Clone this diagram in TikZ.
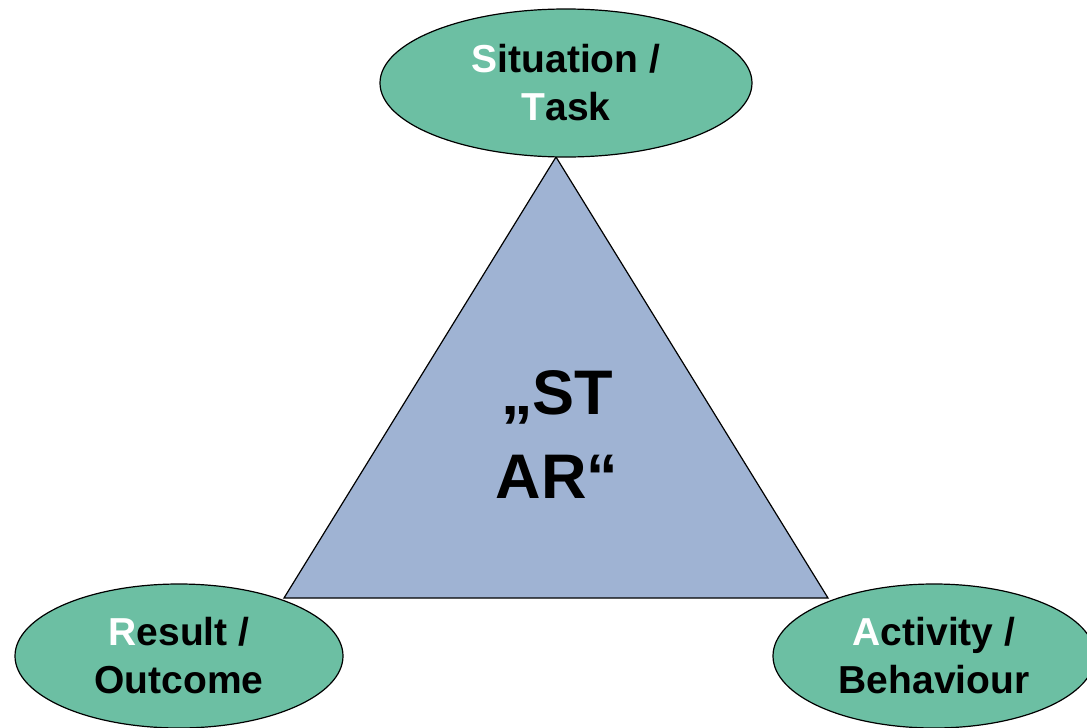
\documentclass[tikz,border=0pt]{standalone}
\usepackage{fontspec}
\setmainfont{Liberation Sans}
\usetikzlibrary{shapes.geometric}
\definecolor{ellgreen}{HTML}{6CBFA3}
\definecolor{triblue}{HTML}{9FB3D3}
\tikzset{
  ell/.style={ellipse, draw=black, line width=1.2pt, fill=ellgreen, inner sep=0pt,
    align=center, font=\fontsize{39}{48}\selectfont\bfseries}
}
\newcommand{\wl}[1]{\textcolor{white}{#1}}
\begin{document}
\begin{tikzpicture}[x=1pt,y=-1pt]
\useasboundingbox (0,0) rectangle (1087,728);
\coordinate (apex) at (556,157);
\coordinate (bl) at (284,598);
\coordinate (br) at (828,598);
\draw[line width=1.2pt, fill=triblue, line join=miter] (apex) -- (bl) -- (br) -- cycle;
\node[font=\fontsize{63}{84}\selectfont\bfseries, align=center] (star) at (557,434) {„ST\\AR“};
\node[ell, minimum width=372pt, minimum height=148pt] (st) at (566,83) {\wl{S}ituation /\\\wl{T}ask};
\node[ell, minimum width=328pt, minimum height=144pt] (ro) at (179,656) {\wl{R}esult /\\Outcome};
\node[ell, minimum width=322pt, minimum height=144pt] (ab) at (934,656) {\wl{A}ctivity /\\Behaviour};
\end{tikzpicture}
\end{document}
